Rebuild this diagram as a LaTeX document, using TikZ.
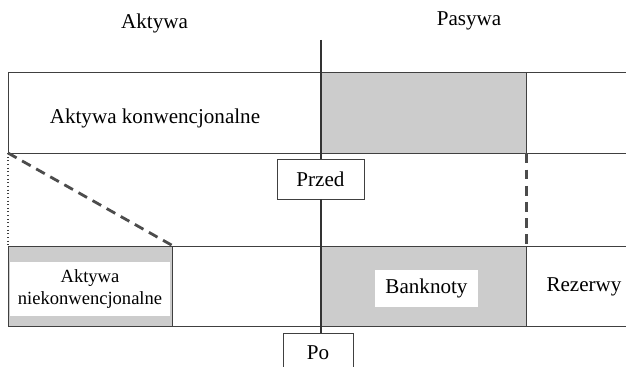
\documentclass[tikz,border=0pt]{standalone}
\usepackage{fontspec}
\setmainfont{Liberation Serif}
\usetikzlibrary{positioning}

\begin{document}
\begin{tikzpicture}[
        x=0.025cm, y=-0.025cm,
        every node/.style={font=\fontsize{15}{17}\selectfont},
        band/.style={draw=black!75, line width=0.6pt},
        shaded/.style={rectangle, draw=black!75, line width=0.6pt, fill=black!20, minimum height=2.0cm},
        tag/.style={rectangle, draw=black!75, line width=0.6pt, fill=white},
        mask/.style={fill=white, inner sep=0pt},
        axis/.style={draw=black!80, line width=1.4pt},
        moveline/.style={draw=black!70, line width=2pt, dash pattern=on 7pt off 4.5pt}
        ]
        \useasboundingbox (0,0) rectangle (626,367);

        % Column headers
        \node (aktywa) at (154.5,23) {Aktywa};
        \node (pasywa) at (469,21) {Pasywa};

        % Shaded balance blocks
        \node[shaded, minimum width=5.125cm, minimum height=2.025cm] (banknotyPrzed) at (423.5,112.5) {};
        \node[shaded, minimum width=5.125cm] (banknoty) at (423.5,286) {};
        \node[shaded, minimum width=4.1cm] (niekonw) at (90,286) {};

        % Row borders
        \foreach \y in {72,153,246,326}
            \draw[band] (8,\y) -- (626,\y);
        \draw[band] (8,72) -- (8,153);
        \draw[band, dotted, line width=1pt] (8,153) -- (8,246);

        % Labels inside the rows
        \node (konw) at (155,118) {Aktywa konwencjonalne};
        \node[mask, align=center, font=\fontsize{13.2}{15.6}\selectfont, minimum width=4.0cm, minimum height=1.35cm] (niekonwTxt) at (90,289) {Aktywa\\niekonwencjonalne};
        \node[mask, minimum width=2.575cm, minimum height=0.925cm] (banknotyTxt) at (426.5,288.5) {Banknoty};
        \node (rezerwy) at (584,287) {Rezerwy};

        % Shifts between before and after
        \coordinate (rowCorner) at (8,153);
        \draw[moveline] (rowCorner) -- (niekonw.north east);
        \draw[moveline] (banknotyPrzed.south east) -- (banknoty.north east);

        % Dividing axis with before / after tags
        \coordinate (axisTop) at (321,40);
        \node[tag, minimum width=2.175cm, minimum height=1.0cm] (przed) at (320.5,179) {Przed};
        \node[tag, minimum width=1.75cm, minimum height=1cm] (po) at (318,353) {Po};
        \draw[axis] (axisTop) -- (axisTop |- przed.north);
        \draw[axis] (axisTop |- przed.south) -- (axisTop |- po.north);

    \end{tikzpicture}
\end{document}
